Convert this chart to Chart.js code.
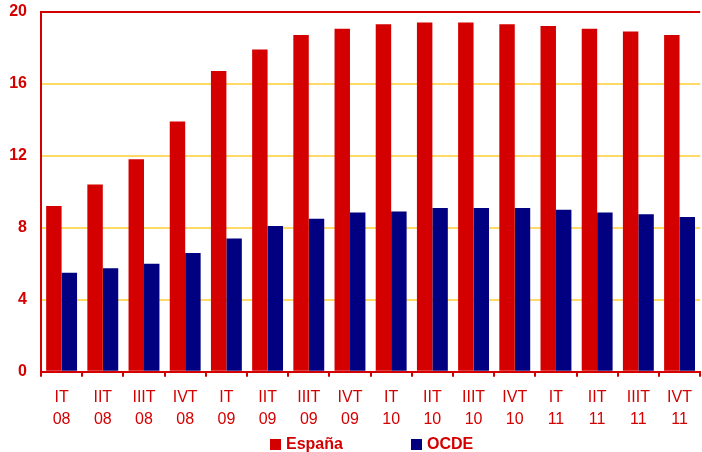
<!DOCTYPE html>
<html>
<head>
<meta charset="utf-8">
<script src="https://cdn.jsdelivr.net/npm/chart.js@4/dist/chart.umd.min.js"></script>
<style>
  html, body { margin: 0; padding: 0; background: #fff; }
  #wrap { position: relative; width: 702px; height: 452px; }
  .item { position: absolute; top: 435px; height: 18px; display: flex; align-items: center;
          font: bold 16px "Liberation Sans", Arial, sans-serif; color: #D40000; }
  .item i { display: inline-block; width: 11px; height: 11px; margin-right: 5px; }
</style>
</head>
<body>
<div id="wrap">
  <canvas id="grafico" width="702" height="452"></canvas>
  <div class="item" style="left:270px"><i style="background:#D40000"></i>España</div>
  <div class="item" style="left:411px"><i style="background:#000080"></i>OCDE</div>
</div>
<script>
const trimestres = ['IT', 'IIT', 'IIIT', 'IVT'];
const anios = ['08', '09', '10', '11'];
const categorias = anios.flatMap(a => trimestres.map(t => [t, a]));

const espana = [9.2, 10.4, 11.8, 13.9, 16.7, 17.9, 18.7, 19.05, 19.3, 19.4, 19.4, 19.3, 19.2, 19.05, 18.9, 18.7];
const ocde   = [5.5, 5.75, 6.0, 6.6, 7.4, 8.1, 8.5, 8.85, 8.9, 9.1, 9.1, 9.1, 9.0, 8.85, 8.75, 8.6];
const ticksY = [0, 4, 8, 12, 16, 20];

const rojo = '#D40000';
const azul = '#000080';
const amarillo = '#FFDA66';
const fuente = '"Liberation Sans", Arial, sans-serif';

new Chart(document.getElementById('grafico'), {
  type: 'bar',
  data: {
    labels: categorias,
    datasets: [
      { label: 'España', data: espana, backgroundColor: rojo, borderWidth: 0 },
      { label: 'OCDE',   data: ocde,   backgroundColor: azul, borderWidth: 0 }
    ]
  },
  options: {
    responsive: false,
    animation: false,
    devicePixelRatio: 1,
    layout: { padding: { top: 0, right: 0, bottom: 12, left: 0 } },
    datasets: { bar: { categoryPercentage: 0.75, barPercentage: 1.0 } },
    plugins: { legend: { display: false }, tooltip: { enabled: false } },
    scales: {
      x: {
        grid: { offset: true, drawOnChartArea: false, drawTicks: true, tickLength: 5, color: rojo, lineWidth: 2 },
        border: { color: rojo, width: 2 },
        ticks: { color: rojo, padding: 10, maxRotation: 0, autoSkip: false,
                 font: { family: fuente, size: 16, lineHeight: 1.35 } }
      },
      y: {
        min: ticksY[0],
        max: ticksY[ticksY.length - 1],
        afterFit: (s) => { s.width = 41; },
        afterBuildTicks: (s) => { s.ticks = ticksY.map(v => ({ value: v })); },
        grid: {
          drawTicks: true,
          tickLength: 12,
          tickColor: 'rgba(0,0,0,0)',
          color: (c) => (c.tick.value === 20 || c.tick.value === 0) ? rojo : amarillo,
          lineWidth: 2
        },
        border: { color: rojo, width: 2 },
        ticks: { color: rojo, padding: 2, font: { family: fuente, size: 16, weight: 'bold' } }
      }
    }
  }
});
</script>
</body>
</html>
